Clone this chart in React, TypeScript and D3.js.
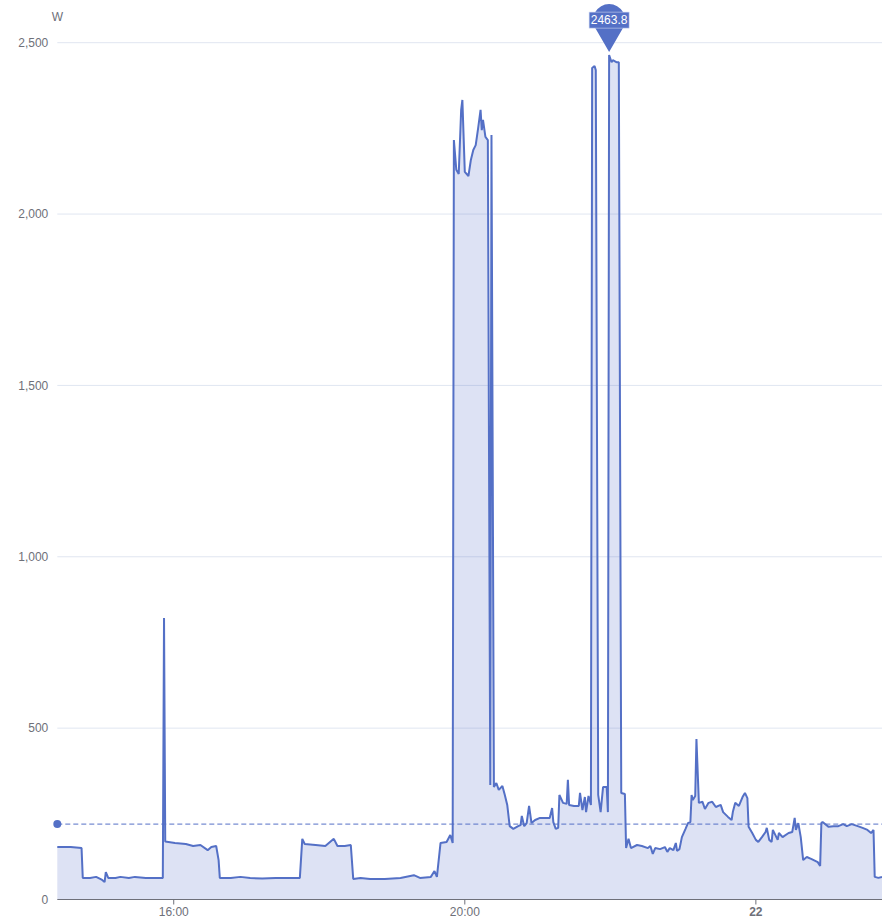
import * as d3 from "d3";

// readings, day of the 21st rolling into the 22nd
const times = [
  "14:24","14:35","14:44","14:45","14:51","14:56","15:01","15:03","15:04","15:06",
  "15:12","15:16","15:23","15:28","15:37","15:45","15:51","15:52","15:53","16:01",
  "16:10","16:16","16:22","16:28","16:31","16:35","16:37","16:38","16:47","16:55",
  "17:03","17:13","17:24","17:36","17:44","17:46","17:48","17:57","18:05","18:12",
  "18:15","18:21","18:26","18:28","18:34","18:42","18:54","19:07","19:18","19:23",
  "19:32","19:35","19:37","19:40","19:45","19:48","19:50","19:51","19:53","19:55",
  "19:57","19:58","20:00","20:03","20:05","20:07","20:09","20:11","20:13","20:14",
  "20:15","20:17","20:19","20:21","20:22","20:24","20:26","20:28","20:31","20:33",
  "20:35","20:37","20:40","20:44","20:46","20:47","20:49","20:51","20:53","20:55",
  "20:58","21:02","21:06","21:10","21:12","21:13","21:15","21:17","21:18","21:21",
  "21:24","21:25","21:26","21:30","21:34","21:35","21:37","21:39","21:40","21:42",
  "21:44","21:45","21:47","21:48","21:50","21:52","21:54","21:57","21:58","21:59",
  "22:01","22:02","22:05","22:07","22:09","22:12","22:13","22:15","22:17","22:22",
  "22:26","22:31","22:33","22:35","22:37","22:41","22:45","22:47","22:49","22:52",
  "22:54","22:55","22:57","22:59","23:02","23:04","23:06","23:07","23:08","23:10",
  "23:11","23:13","23:16","23:18","23:21","23:24","23:27","23:31","23:33","23:37",
  "23:40","23:41","23:43","23:46","23:49","23:51","23:53","23:54","23:57","00:00",
  "00:02","00:05","00:08","00:09","00:11","00:13","00:14","00:18","00:19","00:22",
  "00:27","00:30","00:32","00:33","00:35","00:37","00:39","00:42","00:46","00:51",
  "00:53","00:54","00:55","01:00","01:04","01:08","01:12","01:15","01:19","01:24",
  "01:28","01:32","01:35","01:37","01:38","01:41","01:44",
];

const watts = [
  153,153,150,63,63,66,57,51,80,63,
  63,66,63,66,63,63,63,821,169,165,
  162,156,159,144,153,156,115,63,63,66,
  63,61,63,63,63,177,162,159,156,177,
  156,156,159,60,63,60,60,63,71,63,
  66,83,66,165,168,188,165,2216,2129,2117,
  2304,2333,2123,2111,2158,2187,2201,2251,2304,2245,
  2275,2225,2216,334,2231,328,340,320,331,305,
  276,214,206,214,217,244,214,223,273,223,
  232,238,238,238,267,226,206,209,305,282,
  279,349,276,273,273,311,261,299,255,302,
  276,2426,2432,2420,305,255,328,328,255,2463.8,
  2443,2449,2443,2443,311,308,150,177,150,159,
  156,150,156,133,150,147,153,139,150,144,
  165,142,147,182,206,223,226,305,290,302,
  468,282,285,264,282,285,270,276,255,241,
  232,255,282,273,299,311,296,212,194,174,
  168,182,197,209,174,168,203,174,194,182,
  194,197,238,203,223,182,115,124,118,109,
  98,223,226,212,214,214,220,214,220,214,
  209,203,194,203,66,63,66,
];

const average = 220;
const yTicks = [0, 500, 1000, 1500, 2000, 2500];
const xTickTimes = ["16:00", "20:00", "00:00"];
const unit = "W";

const parseTime = (s: string) => {
  const [h, m] = s.split(":").map(Number);
  // anything after midnight belongs to the 22nd
  return new Date(2024, 0, h < 12 ? 22 : 21, h, m);
};

const W = 882, H = 921;
const left = 57.3, right = 882, top = 42.7, bottom = 899.5;
const blue = "#5470C6";
const grey = "#6E7079";
const font = "'Liberation Sans', Arial, sans-serif";

export default function App() {
  const data = times.map((t, i) => ({ t: parseTime(t), v: watts[i] }));

  const x = d3.scaleTime()
    .domain(d3.extent(data, d => d.t) as [Date, Date])
    .range([left, right]);
  const y = d3.scaleLinear().domain([0, 2500]).range([bottom, top]);

  const line = d3.line<{ t: Date; v: number }>().x(d => x(d.t)).y(d => y(d.v));
  const area = d3.area<{ t: Date; v: number }>().x(d => x(d.t)).y0(y(0)).y1(d => y(d.v));

  const maxIdx = d3.maxIndex(data, d => d.v);
  const maxPt = data[maxIdx];
  const fmt = d3.format(",");

  // pin marker for the max value
  const px = x(maxPt.t), tipY = y(maxPt.v) - 3;
  const r = 16, cy = tipY - 32;
  const tx = r * Math.sin(Math.PI / 3), ty = cy + r * Math.cos(Math.PI / 3);
  const pin = `M${px},${tipY} L${px - tx},${ty} A${r},${r} 0 1 1 ${px + tx},${ty} Z`;

  return (
    <div style={{ position: "absolute", left: 0, top: 0 }}>
      <svg width={W} height={H} style={{ display: "block", fontFamily: font }}>
        <rect width={W} height={H} fill="#fff" />
        {yTicks.filter(t => t > 0).map(t => (
          <line key={t} x1={left} x2={right} y1={y(t)} y2={y(t)} stroke="#E0E6F1" />
        ))}
        {yTicks.map(t => (
          <text key={t} x={left - 9} y={y(t)} dy="0.35em" textAnchor="end" fontSize={12} fill={grey}>
            {fmt(t)}
          </text>
        ))}
        <text x={left} y={17} dy="0.35em" textAnchor="middle" fontSize={12} fill={grey}>{unit}</text>

        <path d={area(data) || ""} fill={blue} fillOpacity={0.2} />
        <path d={line(data) || ""} fill="none" stroke={blue} strokeWidth={2} strokeLinejoin="bevel" />

        <line x1={left} x2={right} y1={bottom} y2={bottom} stroke={grey} />
        {xTickTimes.map(s => {
          const d = parseTime(s);
          const xx = x(d);
          const isDay = d.getHours() === 0;
          return (
            <g key={s}>
              <line x1={xx} x2={xx} y1={bottom} y2={bottom + 5} stroke={grey} />
              <text x={xx} y={bottom + 8} dy="0.71em" textAnchor="middle" fontSize={12}
                fill={grey} fontWeight={isDay ? "bold" : "normal"}>
                {isDay ? d3.timeFormat("%d")(d) : d3.timeFormat("%H:%M")(d)}
              </text>
            </g>
          );
        })}

        {/* average mark line */}
        <line x1={left} x2={right} y1={y(average)} y2={y(average)} stroke={blue} strokeDasharray="5,3" />
        <circle cx={left} cy={y(average)} r={4} fill={blue} />

        {/* max pin */}
        <path d={pin} fill={blue} />
        <rect x={px - 20} y={cy - 8} width={40} height={16} fill={blue} stroke="#c9d3f0" strokeWidth={0.6} />
        <text x={px} y={cy} dy="0.35em" textAnchor="middle" fontSize={12} fill="#fff">{maxPt.v}</text>
      </svg>
    </div>
  );
}
